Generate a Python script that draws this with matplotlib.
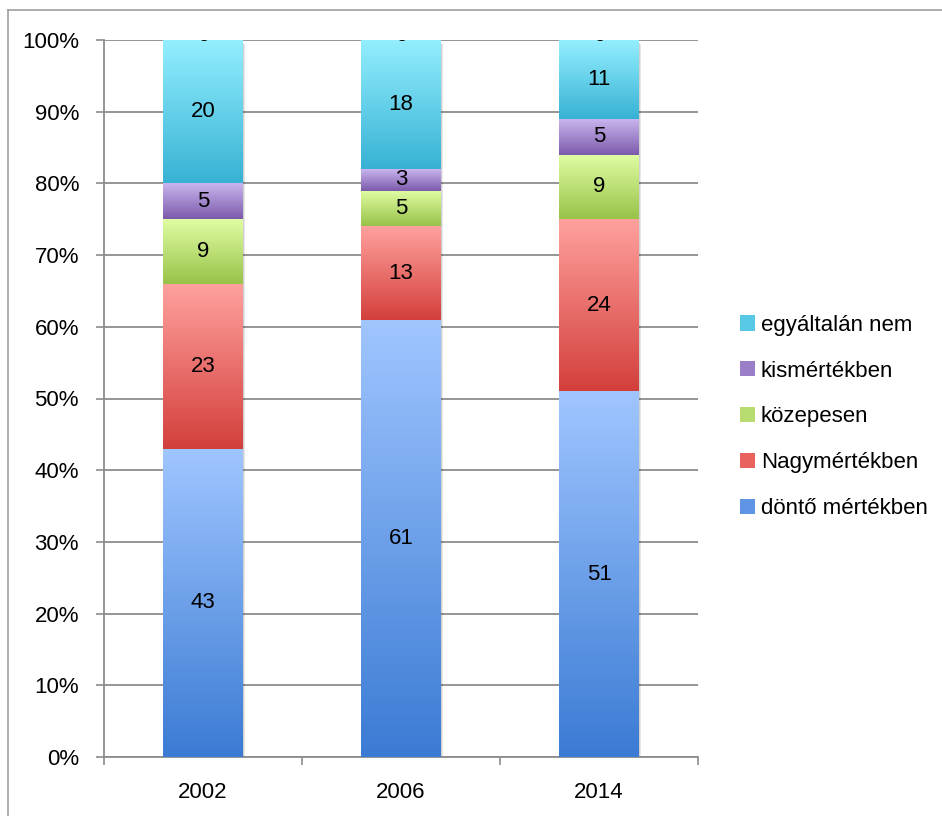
import matplotlib
matplotlib.use("Agg")
import matplotlib.pyplot as plt
import numpy as np
from matplotlib.colors import LinearSegmentedColormap
from matplotlib.patches import Patch
from matplotlib.lines import Line2D
import matplotlib.transforms as mtransforms

plt.rcParams['font.family'] = ['Liberation Sans', 'DejaVu Sans']
FS = 16

years = ['2002', '2006', '2014']
series_names = ['döntő mértékben', 'Nagymértékben', 'közepesen', 'kismértékben', 'egyáltalán nem']
dont = [43, 61, 51]
nagy = [23, 13, 24]
kozep = [9, 5, 9]
kis = [5, 3, 5]
egyaltalan = [20, 18, 11]
hidden_top = [0, 0, 0]  # labels clipped at the very top

series_values = [dont, nagy, kozep, kis, egyaltalan]
grad_colors = [
    ('#a0c6ff', '#3b7bd4'),
    ('#ffa19e', '#d33f3b'),
    ('#e0fda4', '#98c248'),
    ('#c9b5ee', '#7b5aab'),
    ('#94efff', '#37b2d4'),
]

fig = plt.figure(figsize=(9.42, 8.16), dpi=100)
ax = fig.add_axes([104/942, (816-757)/816, 594/942, 717/816])

x = np.arange(len(years))
width = 0.404
bottoms = np.zeros(len(years))
grad = np.linspace(0, 1, 256).reshape(-1, 1)
for vals, (ctop, cbot), name in zip(series_values, grad_colors, series_names):
    vals = np.array(vals, dtype=float)
    bars = ax.bar(x, vals, width, bottom=bottoms, color='none', edgecolor='none', zorder=3)
    cmap = LinearSegmentedColormap.from_list('g', [cbot, ctop])
    for bar, v, b in zip(bars, vals, bottoms):
        x0 = bar.get_x()
        ax.imshow(grad, cmap=cmap, aspect='auto', origin='lower',
                  extent=[x0, x0 + bar.get_width(), b, b + v], zorder=3,
                  interpolation='bilinear')
        ax.text(x0 + bar.get_width()/2, b + v/2, f'{int(v)}',
                ha='center', va='center', fontsize=FS, color='black', zorder=5)
    bottoms = bottoms + vals

# soft shadow to the right of bars
for xi, tot in zip(x, bottoms):
    for k, a in enumerate([0.10, 0.06, 0.03]):
        ax.add_patch(plt.Rectangle((xi - width/2 + 0.004*(k+1), -0.4 - 0.1*k), width, tot,
                                   facecolor='black', alpha=a, edgecolor='none', zorder=2))

offset = mtransforms.ScaledTranslation(0, -0.9/72, fig.dpi_scale_trans)
for xi, v in zip(x, hidden_top):
    ax.text(xi, 100, f'{v}', ha='center', va='baseline', fontsize=FS, color='black', zorder=6,
            clip_on=True, transform=ax.transData + offset)

ax.set_xlim(-0.5, 2.5)
ax.set_ylim(0, 100)
ax.set_yticks(np.arange(0, 101, 10))
ax.set_yticklabels([f'{v}%' for v in range(0, 101, 10)], fontsize=FS)
ax.set_xticks(x)
ax.set_xticklabels(years, fontsize=FS)
ax.tick_params(axis='x', length=0, pad=18)
ax.tick_params(axis='y', length=6, width=1.2, color='#8c8c8c', pad=12)
ax.set_xticks([-0.5, 0.5, 1.5, 2.5], minor=True)
ax.tick_params(axis='x', which='minor', length=6, width=1.2, color='#8c8c8c')
ax.grid(axis='y', color='#8c8c8c', linewidth=1.3, zorder=1)
ax.set_axisbelow(True)
for s in ['top', 'right']:
    ax.spines[s].set_visible(False)
for s in ['left', 'bottom']:
    ax.spines[s].set_color('#8c8c8c')
    ax.spines[s].set_linewidth(1.3)

mid_colors = ['#5f95e4', '#e9625e', '#b8dc70', '#9b7ec8', '#57c9e6']
handles = [Patch(facecolor=c, edgecolor='none') for c in mid_colors]
leg = fig.legend(handles[::-1], series_names[::-1], loc='center left',
                 bbox_to_anchor=(740/942, 1 - 417/816), frameon=False, fontsize=FS,
                 handlelength=0.68, handleheight=0.68, handletextpad=0.25, labelspacing=1.12,
                 borderaxespad=0, borderpad=0)

# figure border (left & top)
fig.add_artist(Line2D([8/942, 8/942], [0, 1 - 10/816], color='#a0a0a0', lw=1.2, transform=fig.transFigure))
fig.add_artist(Line2D([8/942, 1], [1 - 10/816, 1 - 10/816], color='#a0a0a0', lw=1.2, transform=fig.transFigure))

fig.savefig('out.png', dpi=100)
